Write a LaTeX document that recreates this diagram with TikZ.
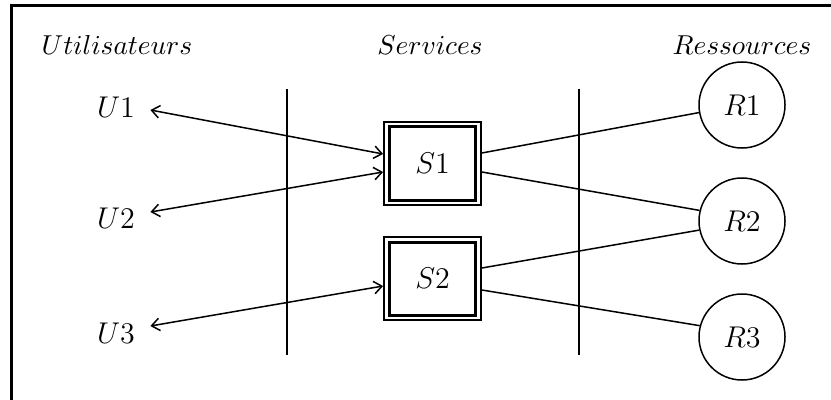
\documentclass[tikz,border=0pt]{standalone}
\usetikzlibrary{calc,arrows.meta}
\begin{document}
\begin{tikzpicture}[x=0.4pt,y=-0.4pt,
  lbl/.style={inner sep=0pt,font=\fontsize{11}{13}\selectfont},
  unode/.style={inner sep=0pt,inner xsep=6pt,font=\fontsize{12}{14}\selectfont},
  sout/.style={draw,line width=0.7pt,minimum width=38.8pt,minimum height=33.2pt,inner sep=0pt},
  sin/.style={draw,line width=1.2pt,minimum width=34.4pt,minimum height=29.2pt,inner sep=0pt,font=\fontsize{12}{14}\selectfont},
  rnode/.style={draw,circle,line width=0.6pt,minimum size=34.4pt,inner sep=0pt,font=\fontsize{12}{14}\selectfont},
  conn/.style={line width=0.6pt},
  biarrow/.style={line width=0.6pt,{Straight Barb[length=3.2pt,width=5pt]}-{Straight Barb[length=3.2pt,width=5pt]}},
  sep/.style={line width=1pt},
  frame/.style={line width=1.2pt}]
\useasboundingbox (0,0) rectangle (831,399);
\draw[frame] (11,410) -- (11,6) -- (840,6);
% headers
\node[lbl] (hU) at (117,45) {$Utilisateurs$};
\node[lbl] (hS) at (430,45) {$Services$};
\node[lbl] (hR) at (742,45) {$Ressources$};
% users
\node[unode] (U1) at (116,107) {$U1$};
\node[unode] (U2) at (116,218) {$U2$};
\node[unode] (U3) at (116,333) {$U3$};
% separators
\coordinate (L1t) at (287,89); \coordinate (L1b) at (287,355);
\coordinate (L2t) at (579,89); \coordinate (L2b) at (579,355);
\draw[sep] (L1t) -- (L1b);
\draw[sep] (L2t) -- (L2b);
% services
\node[sout] (S1) at (432.5,163.5) {};
\node[sin] (S1i) at (S1) {$S1$};
\node[sout] (S2) at (432.5,278.5) {};
\node[sin] (S2i) at (S2) {$S2$};
% resources
\node[rnode] (R1) at (742,105) {$R1$};
\node[rnode] (R2) at (742,221) {$R2$};
\node[rnode] (R3) at (742,337) {$R3$};
% user connectors
\draw[biarrow] ($(U1.east)+(0,3)$) -- ($(S1.west)+(0,-9.5)$);
\draw[biarrow] ($(U2.east)+(0,-6)$) -- ($(S1.west)+(0,8.5)$);
\draw[biarrow] ($(U3.east)+(0,-7)$) -- ($(S2.west)+(0,7.5)$);
% resource connectors
\draw[conn] ($(S1.east)+(0,-10.5)$) -- (R1.190);
\draw[conn] ($(S1.east)+(0,8.5)$) -- (R2.166);
\draw[conn] ($(S2.east)+(0,-10.5)$) -- (R2.192);
\draw[conn] ($(S2.east)+(0,11.5)$) -- (R3.165);
\end{tikzpicture}
\end{document}
